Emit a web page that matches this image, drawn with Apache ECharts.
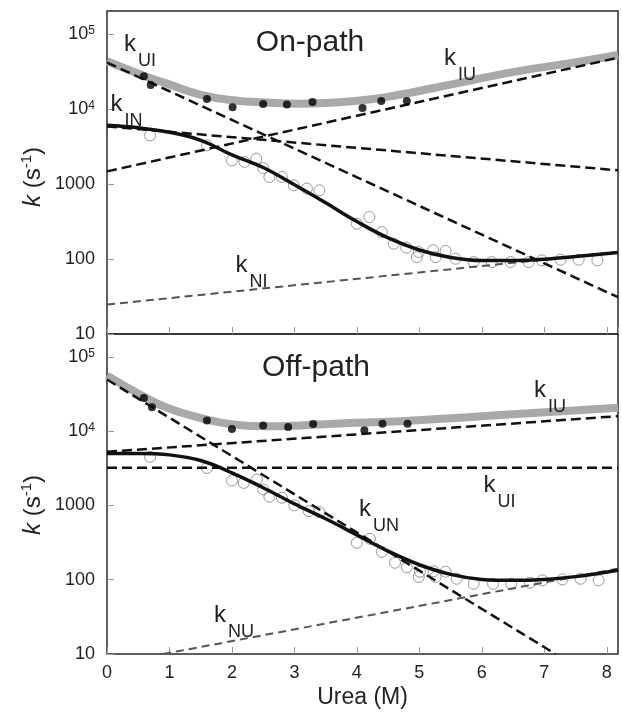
<!DOCTYPE html>
<html><head><meta charset="utf-8">
<script src="https://cdn.jsdelivr.net/npm/echarts@6/dist/echarts.min.js"></script>
<style>html,body{margin:0;padding:0;background:#fff}#c{width:622px;height:713px}</style>
</head><body><div id="c"></div>
<script>
// ---------- data ----------
const panelTitles = ['On-path', 'Off-path'];

// filled dots (fast phase)
const onFastX  = [0.59, 0.70, 1.60, 2.01, 2.50, 2.88, 3.29, 4.09, 4.39, 4.80];
const onFastY  = [27300, 20900, 13600, 10600, 11700, 11500, 12400, 10300, 12800, 12800];
const offFastX = [0.59, 0.72, 1.60, 2.00, 2.50, 2.90, 3.30, 4.12, 4.41, 4.81];
const offFastY = [28000, 21000, 13900, 10700, 11900, 11400, 12500, 10300, 12600, 12600];

// open circles (slow phase)
const onSlowX  = [0.69,1.60,2.00,2.20,2.39,2.50,2.60,2.80,2.99,3.20,3.40,4.00,4.20,4.40,4.59,4.79,4.96,4.99,5.22,5.26,5.42,5.58,5.87,6.16,6.46,6.75,6.96,7.26,7.55,7.85];
const onSlowY  = [4460,3280,2070,1970,2180,1630,1240,1240,960,870,825,295,363,229,160,142,106,124,131,106,128,101,91,91,91,91,96,98,98,96];
const offSlowX = [0.69,1.60,2.00,2.19,2.40,2.50,2.60,2.80,3.00,3.23,3.40,4.00,4.21,4.40,4.61,4.80,4.99,5.01,5.23,5.26,5.42,5.60,5.87,6.18,6.47,6.77,6.97,7.29,7.58,7.87];
const offSlowY = [4500,3200,2160,2010,2230,1640,1310,1270,1000,836,811,314,355,237,169,147,109,128,130,109,128,103,88,88,88,91,98,101,103,98];

// thick gray fitted curve (fast phase)
const onGrayX  = [0, 0.58, 0.96, 1.49, 2.02, 2.56, 3.09, 3.63, 4.16, 4.70, 5.23, 5.76, 6.30, 6.83, 7.37, 8.18];
const onGrayY  = [43300, 28100, 21800, 15600, 13100, 12200, 11800, 12200, 13300, 15600, 19100, 23400, 29000, 34600, 40300, 52500];
const offGrayX = [0, 0.58, 0.96, 1.49, 2.02, 2.56, 3.09, 3.63, 4.70, 5.76, 6.83, 8.18];
const offGrayY = [56000, 29500, 20600, 15100, 12300, 11600, 11900, 12600, 13600, 15400, 17600, 20600];

// black fitted curve (slow phase)
const blackX    = [0, 0.5, 1.0, 1.5, 2.0, 2.5, 3.0, 3.5, 4.0, 4.5, 5.0, 5.5, 6.0, 6.5, 7.0, 7.5, 8.18];
const onBlackY  = [6070, 5620, 4900, 3830, 2450, 1660, 977, 562, 316, 191, 132, 105, 95.5, 95.5, 99, 108, 122];
const offBlackY = [5000, 5010, 4790, 4020, 2750, 1730, 1050, 661, 401, 242, 159, 118, 101, 98, 101, 110, 134];

// dashed microscopic rate constants (end points, straight on log scale)
const onKUI  = [[0, 41700], [8.18, 31]];
const onKIU  = [[0, 1475], [8.18, 48400]];
const onKIN  = [[0, 5870], [8.18, 1524]];
const onKNI  = [[0, 24.7], [8.18, 124]];
const offKUN = [[0, 49500], [7.18, 10]];
const offKIU = [[0, 5270], [8.18, 15900]];
const offKUI = [[0, 3210], [8.18, 3210]];
const offKNU = [[0.9, 10], [8.18, 141]];

// ---------- chart ----------
const FONT = '"Liberation Sans", Arial, Helvetica, sans-serif';
const zip = (xs, ys) => xs.map((x, i) => [x, ys[i]]);
const chart = echarts.init(document.getElementById('c'), null, {renderer: 'canvas'});

const grids = [
  {left: 107, top: 11, width: 511, height: 323},
  {left: 107, top: 334, width: 511, height: 320}
].map(g => Object.assign(g, {show: true, borderColor: '#2a2a2a', borderWidth: 1.5, backgroundColor: 'transparent'}));

const xAxes = [0, 1].map(i => ({
  type: 'value', gridIndex: i, min: 0, max: 8.18, interval: 1,
  axisLine: {show: false},
  axisTick: {show: true, inside: true, length: 7, lineStyle: {color: '#999', width: 1}},
  axisLabel: {show: i === 1, fontSize: 18, color: '#222', fontFamily: FONT, margin: 10,
              showMaxLabel: false},
  splitLine: {show: false}
}));

const yAxes = [0, 1].map(i => ({
  type: 'log', logBase: 10, gridIndex: i, min: 10, max: 203000,
  axisLine: {show: false},
  axisTick: {show: true, inside: true, length: 7, lineStyle: {color: '#999', width: 1}},
  minorTick: {show: false},
  splitLine: {show: false},
  axisLabel: {
    fontSize: 18, color: '#222', fontFamily: FONT, margin: 12, showMaxLabel: false,
    formatter: v => {
      if (v > 150000) return '';
      const e = Math.round(Math.log10(v));
      if (e >= 4) return '10{sup|' + e + '}';
      return String(Math.round(v));
    },
    rich: {sup: {fontSize: 12, color: '#222', fontFamily: FONT, verticalAlign: 'top', lineHeight: 12}}
  }
}));

const grayLine = (gi, d) => ({type: 'line', xAxisIndex: gi, yAxisIndex: gi, data: d, smooth: 0.5, showSymbol: false, symbol: 'none',
  lineStyle: {color: '#a9a9a9', width: 8}, z: 2, silent: true});
const blackLine = (gi, d) => ({type: 'line', xAxisIndex: gi, yAxisIndex: gi, data: d, smooth: 0.4, showSymbol: false, symbol: 'none',
  lineStyle: {color: '#111', width: 3.5}, z: 4, silent: true});
const dashed = (gi, d) => ({type: 'line', xAxisIndex: gi, yAxisIndex: gi, data: d, showSymbol: false, symbol: 'none',
  lineStyle: {color: '#111', width: 2.5, type: [10, 5]}, z: 3, silent: true});
const dashedGray = (gi, d) => ({type: 'line', xAxisIndex: gi, yAxisIndex: gi, data: d, showSymbol: false, symbol: 'none',
  lineStyle: {color: '#555', width: 2, type: [8, 5]}, z: 3, silent: true});
const openDots = (gi, d) => ({type: 'scatter', xAxisIndex: gi, yAxisIndex: gi, data: d, symbol: 'circle', symbolSize: 11,
  itemStyle: {color: 'rgba(255,255,255,0)', borderColor: '#808080', borderWidth: 1}, z: 1, silent: true});
const filledDots = (gi, d) => ({type: 'scatter', xAxisIndex: gi, yAxisIndex: gi, data: d, symbol: 'circle', symbolSize: 8,
  itemStyle: {color: '#000'}, z: 5, silent: true});

const series = [
  openDots(0, zip(onSlowX, onSlowY)),
  grayLine(0, zip(onGrayX, onGrayY)),
  dashed(0, onKUI), dashed(0, onKIU), dashed(0, onKIN), dashedGray(0, onKNI),
  blackLine(0, zip(blackX, onBlackY)),
  filledDots(0, zip(onFastX, onFastY)),

  openDots(1, zip(offSlowX, offSlowY)),
  grayLine(1, zip(offGrayX, offGrayY)),
  dashed(1, offKUN), dashed(1, offKIU), dashed(1, offKUI), dashedGray(1, offKNU),
  blackLine(1, zip(blackX, offBlackY)),
  filledDots(1, zip(offFastX, offFastY))
];

// rate-constant labels: k + subscript
const kLabels = [
  ['UI', 130, 44], ['IN', 116.5, 104.5], ['IU', 450, 58.5], ['NI', 241.5, 265],
  ['IU', 540, 390], ['UI', 489.5, 485], ['UN', 365, 509], ['NU', 220, 615]
];
const graphic = [];
kLabels.forEach(([sub, x, y]) => {
  graphic.push({type: 'text', x: x, y: y, z: 10, silent: true,
    style: {text: 'k', fontSize: 24, fontFamily: FONT, fill: '#222', align: 'center', verticalAlign: 'middle'}});
  graphic.push({type: 'text', x: x + 8, y: y + 17, z: 10, silent: true,
    style: {text: sub, fontSize: 18, fontFamily: FONT, fill: '#222', align: 'left', verticalAlign: 'middle'}});
});
// panel titles
graphic.push({type: 'text', x: 310, y: 43, z: 10, silent: true,
  style: {text: panelTitles[0], fontSize: 30, fontFamily: FONT, fill: '#222', align: 'center', verticalAlign: 'middle'}});
graphic.push({type: 'text', x: 316, y: 368, z: 10, silent: true,
  style: {text: panelTitles[1], fontSize: 30, fontFamily: FONT, fill: '#222', align: 'center', verticalAlign: 'middle'}});
// y-axis names
[177, 505].forEach(cy => {
  graphic.push({type: 'text', x: 33, y: cy, rotation: Math.PI / 2, z: 10, silent: true,
    style: {text: '{i|k} (s{sup|-1})', fontSize: 24, fontFamily: FONT, fill: '#222', align: 'center', verticalAlign: 'middle',
      rich: {i: {fontStyle: 'italic', fontSize: 24, fontFamily: FONT, fill: '#222', lineHeight: 28},
             sup: {fontSize: 15, fontFamily: FONT, fill: '#222', verticalAlign: 'top', lineHeight: 15}}}});
});
// x-axis name
graphic.push({type: 'text', x: 362.5, y: 698, z: 10, silent: true,
  style: {text: 'Urea (M)', fontSize: 23, fontFamily: FONT, fill: '#222', align: 'center', verticalAlign: 'middle'}});

chart.setOption({
  animation: false,
  backgroundColor: '#fff',
  textStyle: {fontFamily: FONT},
  grid: grids,
  xAxis: xAxes,
  yAxis: yAxes,
  series: series,
  graphic: graphic
});
</script></body></html>
